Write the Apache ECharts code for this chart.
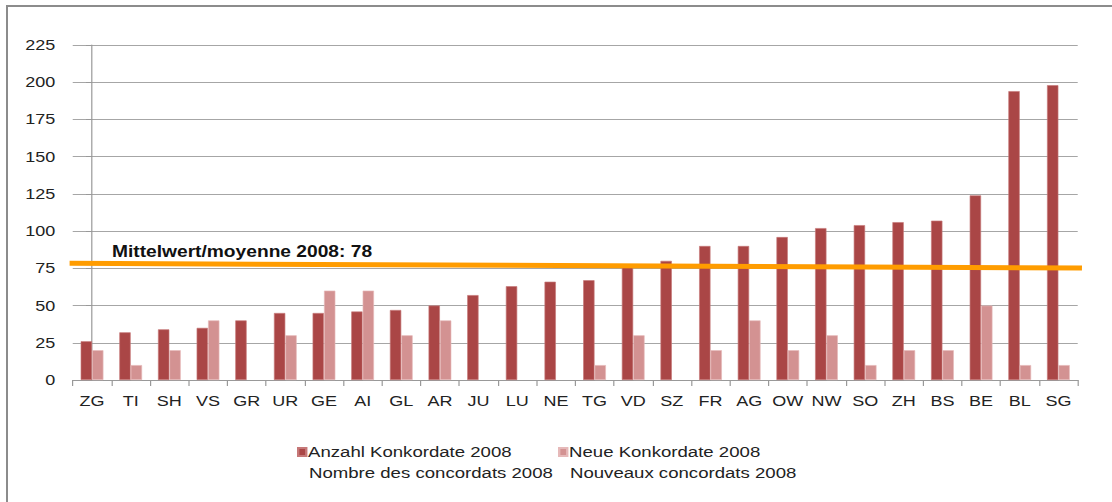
<!DOCTYPE html>
<html>
<head>
<meta charset="utf-8">
<script src="https://cdn.jsdelivr.net/npm/echarts@6/dist/echarts.min.js"></script>
<style>
html,body{margin:0;padding:0;background:#fff;overflow:hidden;}
#frame{position:absolute;left:6px;top:5px;width:1106px;height:497px;border-left:2px solid #8c8c8c;border-top:2px solid #8c8c8c;box-sizing:border-box;}
#chart{position:absolute;left:0;top:0;width:926.67px;height:502px;transform:scaleX(1.2);transform-origin:0 0;}
</style>
</head>
<body>
<div id="frame"></div>
<div id="chart"></div>
<script>
var categories = ['ZG','TI','SH','VS','GR','UR','GE','AI','GL','AR','JU','LU','NE','TG','VD','SZ','FR','AG','OW','NW','SO','ZH','BS','BE','BL','SG'];
var anzahl = [26,32,34,35,40,45,45,46,47,50,57,63,66,67,76,80,90,90,96,102,104,106,107,124,194,198];
var neue = [20,10,20,40,null,30,60,60,30,40,null,null,null,10,30,null,20,40,20,30,10,20,20,50,10,10];
var yTicks = [0,25,50,75,100,125,150,175,200,225];
var legendLine1 = ['Anzahl Konkordate 2008', 'Neue Konkordate 2008'];
var legendLine2 = ['Nombre des concordats 2008', 'Nouveaux concordats 2008'];
var meanValue = 78;
var meanLineEnds = [78.4, 75.2];   // drawn line drifts slightly in the original
var meanLabel = 'Mittelwert/moyenne 2008: ' + meanValue;

var FONT = '"Liberation Sans", Arial, sans-serif';
var chart = echarts.init(document.getElementById('chart'), null, {renderer:'svg'});
var legendLeft = [247.5, 465];
chart.setOption({
  animation:false,
  backgroundColor:'transparent',
  textStyle:{fontFamily:FONT},
  grid:{left:60.6, right:28.9, top:45, bottom:122},
  legend:[0,1].map(function(i){
    return {
      data:[legendLine1[i]], left:legendLeft[i], top:442, padding:0, icon:'rect', itemWidth:6.7, itemHeight:8, itemGap:0,
      textStyle:{fontSize:15.5, color:'#222', lineHeight:20, padding:[0,0,0,-3.5], fontFamily:FONT}
    };
  }),
  xAxis:[{
    type:'category', data:categories,
    axisLine:{lineStyle:{color:'#999', width:1}},
    axisTick:{show:true, length:6, lineStyle:{color:'#999'}},
    axisLabel:{fontSize:15, color:'#222', margin:14, interval:0, fontFamily:FONT}
  },{
    type:'value', min:-0.5, max:25.5, show:false
  }],
  yAxis:{
    type:'value', min:yTicks[0], max:yTicks[yTicks.length-1], interval:25,
    axisLine:{show:true, lineStyle:{color:'#999'}},
    axisTick:{show:true, length:5, lineStyle:{color:'#999'}},
    axisLabel:{fontSize:15, color:'#222', margin:14.5, fontFamily:FONT},
    splitLine:{lineStyle:{color:'#a6a6a6', width:1}}
  },
  series:[{
    name:legendLine1[0], type:'bar', data:anzahl, barGap:'0%', barCategoryGap:'41%',
    itemStyle:{color:'#aa4646', borderColor:'#c67878', borderWidth:0.6}
  },{
    name:legendLine1[1], type:'bar', data:neue,
    itemStyle:{color:'#d39292', borderColor:'#e6b9b9', borderWidth:0.6}
  },{
    type:'line', xAxisIndex:1, clip:false, symbol:'none', silent:true,
    data:[[-0.6, meanLineEnds[0]],[25.61, meanLineEnds[1]]],
    lineStyle:{color:'#ff9c00', width:5},
    z:5
  }],
  graphic:[{
    type:'text', x:93.3, y:252,
    style:{text:meanLabel, font:'bold 16px ' + FONT, fill:'#111', verticalAlign:'middle'}
  }].concat([0,1].map(function(i){
    return {
      type:'text', x:legendLeft[i] + 10, y:473,
      style:{text:legendLine2[i], font:'15.5px ' + FONT, fill:'#222', verticalAlign:'middle'}
    };
  }))
});
</script>
</body>
</html>
